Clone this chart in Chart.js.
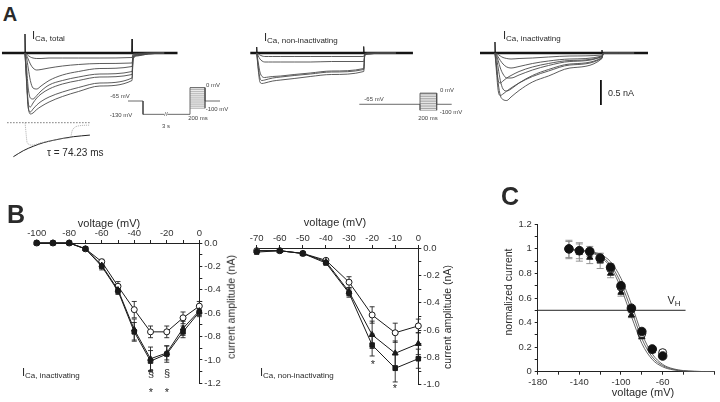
<!DOCTYPE html>
<html>
<head>
<meta charset="utf-8">
<script src="https://cdn.jsdelivr.net/npm/chart.js@4.4.1/dist/chart.umd.min.js"></script>
<style>
  body { margin: 0; width: 720px; height: 402px; position: relative; overflow: hidden; background: #fff;
         font-family: "Liberation Sans", Arial, sans-serif; color: #2a2a2a; }
  canvas { position: absolute; }
  .t { position: absolute; white-space: nowrap; line-height: 1; }
  .c { transform: translate(-50%, -50%); }
  .l { transform: translate(0, -50%); }
  .r { transform: translate(-50%, -50%) rotate(-90deg); }
  .big { font-weight: bold; }
  .lab { font-size: 11px; }
  .lab sub { font-size: 8px; vertical-align: -2px; }
  .tiny { font-size: 6px; color: #444; }
</style>
</head>
<body>
<canvas id="trTotal" width="185" height="100" style="left:0px;top:25px"></canvas>
<canvas id="inset" width="90" height="53" style="left:5px;top:115px"></canvas>
<canvas id="proto1" width="115" height="45" style="left:110px;top:80px"></canvas>
<canvas id="trNon" width="185" height="100" style="left:245px;top:25px"></canvas>
<canvas id="proto2" width="110" height="35" style="left:350px;top:85px"></canvas>
<canvas id="trInac" width="185" height="100" style="left:480px;top:25px"></canvas>
<canvas id="ivInac" width="225" height="180" style="left:20px;top:215px"></canvas>
<canvas id="ivNon" width="215" height="180" style="left:245px;top:215px"></canvas>
<canvas id="avail" width="220" height="197" style="left:500px;top:205px"></canvas>

<div class="t c big" style="left:10px;top:14px;font-size:20px">A</div>
<div class="t l lab" style="left:32px;top:36px">I<sub>Ca, total</sub></div>
<div class="t l lab" style="left:264px;top:38px">I<sub>Ca, non-inactivating</sub></div>
<div class="t l lab" style="left:503px;top:36px">I<sub>Ca, inactivating</sub></div>
<div class="t l" style="left:47px;top:153px;font-size:10px">τ = 74.23 ms</div>
<div class="t l" style="left:608px;top:93px;font-size:9px">0.5 nA</div>

<div class="t c tiny" style="left:120px;top:96px">-65 mV</div>
<div class="t c tiny" style="left:121px;top:115px">-130 mV</div>
<div class="t c tiny" style="left:166px;top:114px;background:#fff">//</div>
<div class="t c tiny" style="left:166px;top:126px">3 s</div>
<div class="t c tiny" style="left:198px;top:118px">200 ms</div>
<div class="t c tiny" style="left:213px;top:85px">0 mV</div>
<div class="t c tiny" style="left:217px;top:109px">-100 mV</div>
<div class="t c tiny" style="left:374px;top:99px">-65 mV</div>
<div class="t c tiny" style="left:447px;top:90px">0 mV</div>
<div class="t c tiny" style="left:451px;top:112px">-100 mV</div>
<div class="t c tiny" style="left:428px;top:118px">200 ms</div>

<div class="t c big" style="left:16px;top:214px;font-size:25px">B</div>
<div class="t c" style="left:109px;top:223px;font-size:11px">voltage (mV)</div>
<div class="t r" style="left:231px;top:307px;font-size:10.5px">current amplitude (nA)</div>
<div class="t l lab" style="left:22px;top:373px">I<sub>Ca, inactivating</sub></div>
<div class="t c" style="left:151px;top:373px;font-size:11px">§</div>
<div class="t c" style="left:167px;top:373px;font-size:11px">§</div>
<div class="t c" style="left:151px;top:392px;font-size:11px">*</div>
<div class="t c" style="left:167px;top:392px;font-size:11px">*</div>

<div class="t c" style="left:335px;top:222px;font-size:11px">voltage (mV)</div>
<div class="t r" style="left:447px;top:317px;font-size:10.5px">current amplitude (nA)</div>
<div class="t l lab" style="left:260px;top:373px">I<sub>Ca, non-inactivating</sub></div>
<div class="t c" style="left:373px;top:364px;font-size:11px">*</div>
<div class="t c" style="left:395px;top:388px;font-size:11px">*</div>

<div class="t c big" style="left:510px;top:196px;font-size:25px">C</div>
<div class="t r" style="left:508px;top:292px;font-size:10.5px">normalized current</div>
<div class="t c" style="left:643px;top:392px;font-size:11px">voltage (mV)</div>
<div class="t c lab" style="left:674px;top:301px">V<sub>H</sub></div>

<script>
// ---- A: current traces (ms, nA) ----
const tTrace = [0, 3, 6, 10, 15, 22, 30, 45, 70, 100, 140, 200, 202, 210, 230, 260];
const total1 = [0, -0.5, -1.05, -1.22, -1.2, -1.13, -1.07, -0.98, -0.87, -0.77, -0.66, -0.55, -0.12, -0.06, -0.02, 0];
const total2 = [0, -0.6, -1.1, -1.18, -1.12, -1.04, -0.97, -0.88, -0.78, -0.69, -0.6, -0.5, -0.1, -0.05, -0.02, 0];
const total3 = [0, -0.55, -1.0, -1.08, -1.0, -0.9, -0.82, -0.72, -0.62, -0.55, -0.48, -0.43, -0.09, -0.04, -0.01, 0];
const total4 = [0, -0.3, -0.7, -0.9, -0.92, -0.85, -0.76, -0.64, -0.55, -0.48, -0.42, -0.37, -0.08, -0.04, -0.01, 0];
const total5 = [0, -0.1, -0.3, -0.55, -0.7, -0.72, -0.66, -0.55, -0.44, -0.37, -0.31, -0.27, -0.06, -0.03, -0.01, 0];
const total6 = [0, -0.05, -0.12, -0.22, -0.3, -0.34, -0.33, -0.3, -0.26, -0.23, -0.21, -0.2, -0.04, -0.02, 0, 0];
const total7 = [0, -0.02, -0.05, -0.08, -0.1, -0.11, -0.11, -0.1, -0.1, -0.1, -0.1, -0.09, -0.02, -0.01, 0, 0];

const non1 = [0, -0.35, -0.58, -0.61, -0.6, -0.58, -0.56, -0.54, -0.51, -0.47, -0.43, -0.37, -0.05, -0.02, 0, 0];
const non2 = [0, -0.3, -0.5, -0.55, -0.54, -0.52, -0.5, -0.48, -0.45, -0.42, -0.38, -0.33, -0.04, -0.02, 0, 0];
const non3 = [0, -0.2, -0.38, -0.47, -0.49, -0.48, -0.47, -0.46, -0.43, -0.4, -0.36, -0.31, -0.04, -0.01, 0, 0];
const non4 = [0, -0.06, -0.12, -0.16, -0.18, -0.18, -0.18, -0.18, -0.18, -0.18, -0.17, -0.17, -0.02, 0, 0, 0];
const non5 = [0, -0.02, -0.04, -0.06, -0.07, -0.07, -0.07, -0.07, -0.07, -0.07, -0.07, -0.07, -0.01, 0, 0, 0];

const inac1 = [0, -0.25, -0.6, -0.85, -0.93, -0.95, -0.88, -0.75, -0.58, -0.46, -0.3, -0.11, -0.02, 0, 0, 0];
const inac2 = [0, -0.4, -0.75, -0.85, -0.82, -0.76, -0.7, -0.6, -0.47, -0.36, -0.24, -0.1, -0.02, 0, 0, 0];
const inac3 = [0, -0.1, -0.3, -0.55, -0.72, -0.76, -0.72, -0.6, -0.45, -0.33, -0.22, -0.09, -0.02, 0, 0, 0];
const inac4 = [0, -0.3, -0.55, -0.6, -0.56, -0.5, -0.45, -0.37, -0.28, -0.21, -0.15, -0.07, -0.01, 0, 0, 0];
const inac5 = [0, -0.05, -0.15, -0.3, -0.42, -0.5, -0.5, -0.44, -0.34, -0.25, -0.17, -0.07, -0.01, 0, 0, 0];
const inac6 = [0, -0.03, -0.08, -0.15, -0.22, -0.28, -0.3, -0.27, -0.21, -0.16, -0.12, -0.06, -0.01, 0, 0, 0];
const inac7 = [0, -0.01, -0.03, -0.06, -0.09, -0.11, -0.12, -0.11, -0.1, -0.08, -0.06, -0.04, 0, 0, 0, 0];

// baselines and capacitive spikes
const baseTotalT = [-43, 285];
const baseNonT = [-12, 292];
const baseInacT = [-28, 286];
const spikeOnT = [-0.8, 0, 0.8];
const spikeOffT = [199.2, 200, 200.8];
const spikeTotalOn = [0, 0.38, 0];
const spikeTotalOff = [0, 0.28, 0];
const spikeNonOn = [0, 0.12, 0];
const spikeNonOff = [0, 0.13, 0];
const spikeInacOn = [0, 0.22, 0];
const spikeInacOff = [0, 0.06, 0];
const scaleBarT = [198, 198];
const scaleBarI = [-0.54, -1.04];

// inset: fit of the decay (tau = 74.23 ms)
const insetFitT = [28, 61, 94, 128, 161, 194, 228, 283];
const insetFit = [-0.85, -0.7, -0.59, -0.5, -0.44, -0.39, -0.35, -0.31];
const insetDataT = [67, 70, 74, 90, 120, 160, 200, 218, 224, 232, 245, 283];
const insetData = [0, -0.25, -0.5, -0.56, -0.5, -0.44, -0.39, -0.37, -0.2, -0.12, -0.08, -0.06];
const insetBaseT = [7, 283];

// voltage protocols (schematic time, mV)
const proto1T = [0, 15, 15, 62, 62, 77, 77, 77, 92];
const proto1V = [-65, -65, -130, -130, 0, 0, -100, -65, -65];
const proto1Box = [62, 77];
const proto2T = [0, 60.7, 60.7, 60.7, 77.4, 77.4, 77.4, 92.4];
const proto2V = [-65, -65, -100, 0, 0, -100, -65, -65];
const proto2Box = [60.7, 77.4];
const stepLevels = [-100, -90, -80, -70, -60, -50, -40, -30, -20, -10, 0];

// ---- B: I-V relations ----
const ivInacV = [-100, -90, -80, -70, -60, -50, -40, -30, -20, -10, 0];
const inacOpen = [0, 0, 0, -0.05, -0.16, -0.37, -0.57, -0.76, -0.76, -0.64, -0.54];
const inacOpenErr = [0, 0, 0, 0.01, 0.02, 0.04, 0.07, 0.05, 0.05, 0.05, 0.04];
const inacSquare = [0, 0, 0, -0.05, -0.2, -0.41, -0.76, -1.01, -0.95, -0.76, -0.59];
const inacSquareErr = [0, 0, 0, 0.01, 0.03, 0.03, 0.08, 0.09, 0.07, 0.05, 0.04];
const inacTri = [0, 0, 0, -0.05, -0.19, -0.4, -0.74, -0.99, -0.94, -0.73, -0.58];
const inacTriErr = [0, 0, 0, 0.01, 0.02, 0.03, 0.09, 0.1, 0.06, 0.06, 0.04];

const ivNonV = [-70, -60, -50, -40, -30, -20, -10, 0];
const nonOpen = [-0.02, -0.02, -0.04, -0.09, -0.25, -0.49, -0.62, -0.57];
const nonOpenErr = [0, 0, 0, 0.01, 0.04, 0.06, 0.07, 0.05];
const nonTri = [-0.02, -0.02, -0.04, -0.1, -0.32, -0.635, -0.77, -0.7];
const nonTriErr = [0, 0, 0, 0.01, 0.03, 0.1, 0.09, 0.08];
const nonSquare = [-0.03, -0.02, -0.04, -0.11, -0.33, -0.71, -0.88, -0.81];
const nonSquareErr = [0.01, 0, 0, 0.01, 0.03, 0.08, 0.1, 0.07];

// ---- C: steady-state inactivation ----
const availV = [-150, -140, -130, -120, -110, -100, -90, -80, -70, -60];
const availFilled = [1.0, 0.985, 0.98, 0.925, 0.85, 0.70, 0.517, 0.327, 0.185, 0.128];
const availFilledErr = [0.07, 0.065, 0.04, 0.04, 0.03, 0.025, 0.02, 0.02, 0.015, 0.015];
const availOpen = [1.0, 0.985, 0.975, 0.92, 0.84, 0.69, 0.51, 0.31, 0.18, 0.155];
const availTri = [0.99, 0.97, 0.93, 0.9, 0.8, 0.645, 0.46, 0.285, 0.17, 0.12];
const availTriErr = [0.07, 0.07, 0.05, 0.06, 0.035, 0.03, 0.02, 0.02, 0.015, 0.015];
const fitV = [-150, -140, -130, -120, -110, -100, -90, -80, -70, -60, -50, -40, -30, -20, -10];
const fitA = [0.995, 0.99, 0.98, 0.955, 0.895, 0.76, 0.55, 0.31, 0.145, 0.06, 0.024, 0.009, 0.003, 0.001, 0];
const fitB = [0.995, 0.99, 0.975, 0.945, 0.87, 0.72, 0.5, 0.27, 0.12, 0.05, 0.02, 0.007, 0.003, 0.001, 0];
const fitC = [0.995, 0.985, 0.97, 0.935, 0.85, 0.68, 0.45, 0.23, 0.1, 0.04, 0.015, 0.005, 0.002, 0.001, 0];
const vhV = [-180, -38];
const vhLevel = [0.5, 0.5];

Chart.defaults.font.family = '"Liberation Sans", Arial, sans-serif';
Chart.defaults.color = '#333';
Chart.defaults.animation = false;

const pairs = (xs, ys) => xs.map((x, i) => ({ x: x, y: ys[i] }));

function line(xs, ys, color, width, extra) {
    return Object.assign({
        data: pairs(xs, ys), borderColor: color, borderWidth: width,
        pointRadius: 0, fill: false, tension: 0
    }, extra || {});
}

function plainChart(id, xMin, xMax, yMin, yMax, datasets) {
    return new Chart(document.getElementById(id), {
        type: 'line',
        data: { datasets: datasets },
        options: {
            responsive: false, events: [],
            layout: { padding: 0 },
            plugins: { legend: { display: false }, tooltip: { enabled: false } },
            scales: {
                x: { type: 'linear', display: false, min: xMin, max: xMax },
                y: { type: 'linear', display: false, min: yMin, max: yMax }
            }
        }
    });
}

const smooth = { cubicInterpolationMode: 'monotone' };
const traceColor = '#4a4a4a';

function traceSets(traces, baseT, on, off) {
    const sets = traces.map(tr => line(tTrace, tr, traceColor, 0.9, smooth));
    sets.push(line(baseT, [0, 0], '#151515', 2.6));
    sets.push(line(spikeOnT, on, '#222', 1));
    sets.push(line(spikeOffT, off, '#222', 1));
    return sets;
}

// panel A traces
plainChart('trTotal', -46.7, 299, -1.44, 0.56,
    traceSets([total1, total2, total3, total4, total5, total6, total7], baseTotalT, spikeTotalOn, spikeTotalOff));
plainChart('trNon', -21.9, 323.9, -1.44, 0.56,
    traceSets([non1, non2, non3, non4, non5], baseNonT, spikeNonOn, spikeNonOff));
const inacSets = traceSets([inac1, inac2, inac3, inac4, inac5, inac6, inac7], baseInacT, spikeInacOn, spikeInacOff);
inacSets.push(line(scaleBarT, scaleBarI, '#111', 1.8));
plainChart('trInac', -28, 317.8, -1.44, 0.56, inacSets);

// inset with the exponential fit
plainChart('inset', 0, 300, -1.1325, 0.1925, [
    line(insetBaseT, [0, 0], '#555', 0.8, { borderDash: [1.5, 1.5] }),
    line(insetDataT, insetData, '#999', 0.8, Object.assign({ borderDash: [1, 1] }, smooth)),
    line(insetFitT, insetFit, '#222', 1, smooth)
]);

// voltage protocols
function protoSets(ts, vs, box) {
    const sets = stepLevels.map(v => line(box, [v, v], '#666', 0.6));
    sets.push(line(ts, vs, '#444', 0.8));
    return sets;
}
plainChart('proto1', -18, 97, -182, 37.4, protoSets(proto1T, proto1V, proto1Box));
plainChart('proto2', -9.3, 100.7, -157.4, 48.5, protoSets(proto2T, proto2V, proto2Box));

// error bars drawn through the chart scales
const errorBars = {
    id: 'errorBars',
    beforeDatasetsDraw(chart) {
        const { ctx, scales: { x, y } } = chart;
        chart.data.datasets.forEach(ds => {
            if (!ds.errors) return;
            ctx.save();
            ctx.strokeStyle = ds.errorColor || '#222';
            ctx.lineWidth = 0.9;
            ds.data.forEach((p, i) => {
                const e = ds.errors[i];
                if (!e) return;
                const px = x.getPixelForValue(p.x);
                const top = y.getPixelForValue(p.y + e);
                const bot = y.getPixelForValue(p.y - e);
                const w = ds.capWidth || 2.5;
                ctx.beginPath();
                ctx.moveTo(px, top); ctx.lineTo(px, bot);
                ctx.moveTo(px - w, top); ctx.lineTo(px + w, top);
                ctx.moveTo(px - w, bot); ctx.lineTo(px + w, bot);
                ctx.stroke();
            });
            ctx.restore();
        });
    }
};

function markerSet(xs, ys, errs, style, fill, radius, extra) {
    return Object.assign({
        data: pairs(xs, ys), errors: errs,
        borderColor: '#1a1a1a', borderWidth: 1,
        pointStyle: style, pointRadius: radius,
        pointBackgroundColor: fill, pointBorderColor: '#1a1a1a', pointBorderWidth: 1,
        fill: false, tension: 0, clip: false
    }, extra || {});
}

const axisGrid = { drawOnChartArea: false, tickLength: 3, color: '#222', lineWidth: 1 };
const axisBorder = { display: true, color: '#222', width: 1 };
const tickFont = { size: 9.5 };

function ivOptions(xMin, yMin, xLabelStep, pad) {
    return {
        responsive: false, events: [],
        layout: { padding: pad },
        plugins: { legend: { display: false }, tooltip: { enabled: false } },
        scales: {
            x: {
                type: 'linear', position: 'top', min: xMin, max: 0,
                afterFit: s => { s.height = 15; },
                grid: axisGrid, border: axisBorder,
                ticks: { stepSize: 10, autoSkip: false, maxRotation: 0, padding: 1, font: tickFont,
                         callback: v => (v % xLabelStep === 0 ? String(v) : '') }
            },
            y: {
                type: 'linear', position: 'right', min: yMin, max: 0,
                afterFit: s => { s.width = 30; },
                grid: axisGrid, border: axisBorder,
                ticks: { stepSize: 0.1, autoSkip: false, padding: 2, font: tickFont,
                         callback: v => { const r = Math.round(v * 10); return r % 2 === 0 ? (r / 10).toFixed(1) : ''; } }
            }
        }
    };
}

// first dataset is painted last (on top)
new Chart(document.getElementById('ivInac'), {
    type: 'line',
    data: { datasets: [
        markerSet(ivInacV, inacSquare, inacSquareErr, 'rect', '#1a1a1a', 3.2),
        markerSet(ivInacV, inacTri, inacTriErr, 'triangle', '#1a1a1a', 3.2),
        markerSet(ivInacV, inacOpen, inacOpenErr, 'circle', '#fff', 3)
    ] },
    options: ivOptions(-100, -1.2, 20, { top: 13, left: 16.7, right: 15.7, bottom: 11.7 }),
    plugins: [errorBars]
});

new Chart(document.getElementById('ivNon'), {
    type: 'line',
    data: { datasets: [
        markerSet(ivNonV, nonSquare, nonSquareErr, 'rect', '#1a1a1a', 3.2),
        markerSet(ivNonV, nonTri, nonTriErr, 'triangle', '#1a1a1a', 3.4),
        markerSet(ivNonV, nonOpen, nonOpenErr, 'circle', '#fff', 3)
    ] },
    options: ivOptions(-70, -1.0, 10, { top: 18, left: 11.7, right: 11.7, bottom: 10.3 }),
    plugins: [errorBars]
});

// panel C
new Chart(document.getElementById('avail'), {
    type: 'line',
    data: { datasets: [
        markerSet(availV, availFilled, availFilledErr, 'circle', '#111', 4.3,
            { showLine: false, errorColor: '#8a8a8a', capWidth: 3.5 }),
        markerSet(availV, availOpen, null, 'circle', '#fff', 4, { showLine: false }),
        markerSet(availV, availTri, availTriErr, 'triangle', '#111', 3.6,
            { showLine: false, errorColor: '#8a8a8a', capWidth: 3.5 }),
        line(fitV, fitA, '#555', 0.9, smooth),
        line(fitV, fitB, '#555', 0.9, smooth),
        line(fitV, fitC, '#555', 0.9, smooth),
        line(vhV, vhLevel, '#222', 1)
    ] },
    options: {
        responsive: false, events: [],
        layout: { padding: { top: 19.3, left: 5.7, right: 1, bottom: 16.3 } },
        plugins: { legend: { display: false }, tooltip: { enabled: false } },
        scales: {
            x: {
                type: 'linear', position: 'bottom', min: -180, max: -10,
                afterFit: s => { s.height = 14; },
                grid: axisGrid, border: axisBorder,
                ticks: { stepSize: 20, autoSkip: false, maxRotation: 0, padding: 2, font: tickFont,
                         callback: v => ((v + 180) % 40 === 0 ? String(v) : '') }
            },
            y: {
                type: 'linear', position: 'left', min: 0, max: 1.2,
                afterFit: s => { s.width = 32; },
                grid: axisGrid, border: axisBorder,
                ticks: { stepSize: 0.1, autoSkip: false, padding: 3, font: tickFont,
                         callback: v => { const r = Math.round(v * 10); return r % 2 === 0 ? String(r / 10) : ''; } }
            }
        }
    },
    plugins: [errorBars]
});
</script>
</body>
</html>
